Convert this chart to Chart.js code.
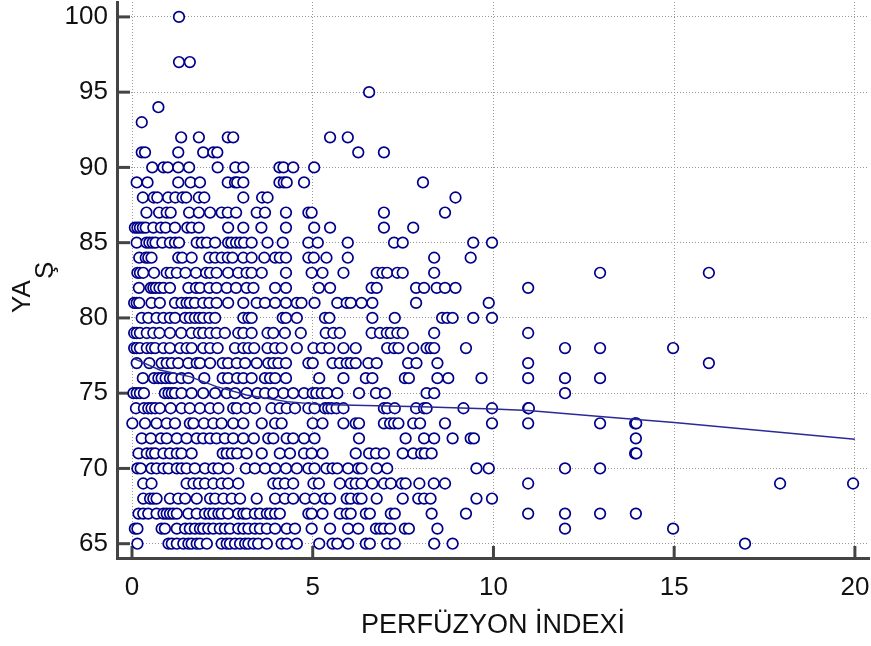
<!DOCTYPE html>
<html>
<head>
<meta charset="utf-8">
<script src="https://cdn.jsdelivr.net/npm/chart.js@4"></script>
<style>html,body{margin:0;padding:0;background:#fff}canvas{display:block}</style>
</head>
<body>
<canvas id="c" width="871" height="646"></canvas>
<script>
const xTickValues=[0,5,10,15,20];
const yTickValues=[65,70,75,80,85,90,95,100];
const xTitle="PERFÜZYON İNDEXİ";
const yTitleMain="YA";
const yTitleLow="Ş";

const age100=[1.3];
const age97=[1.3,1.6];
const age95=[6.56];
const age94=[0.73];
const age93=[0.27];
const age92=[1.36,1.85,2.65,2.8,5.48,5.97];
const age91=[0.27,0.36,1.28,1.97,2.25,2.36,6.26,6.97];
const age90=[0.56,0.87,0.99,1.28,1.58,2.37,2.86,3.08,4.08,4.19,4.46,5.04];
const age89=[0.13,0.43,1.28,1.62,1.88,2.65,2.85,2.91,3.08,4.08,4.2,4.28,4.76,8.05];
const age88=[0.3,0.6,0.7,1,1.2,1.4,1.5,1.85,2,3.08,3.6,3.75,8.95];
const age87=[0.4,0.75,0.96,1.07,1.58,1.85,2.16,2.48,2.65,2.88,3.45,3.68,4.26,4.88,4.97,6.97,8.66];
const age86=[0.08,0.15,0.22,0.3,0.38,0.59,0.8,0.93,1.19,1.53,1.65,1.85,2.66,3.08,3.58,4.26,5.04,5.48,6.97,7.78];
const age85=[0.13,0.4,0.48,0.57,0.65,0.84,1.05,1.19,1.3,1.79,1.93,2.07,2.3,2.66,2.75,2.88,2.99,3.1,3.31,3.75,4.17,4.88,5.14,5.97,7.25,7.49,9.44,9.96];
const age84=[0.2,0.38,0.45,0.54,1.28,1.39,1.65,2.14,2.3,2.48,2.65,2.78,3.08,3.31,3.66,3.96,4.09,4.26,4.88,5.03,5.38,5.97,8.36,9.37];
const age83=[0.15,0.22,0.31,0.61,0.96,1.07,1.24,1.48,1.77,2.05,2.16,2.34,2.66,2.94,3.17,3.31,3.59,4.26,4.97,5.27,5.85,6.77,6.93,7.06,7.34,7.49,8.36,12.95,15.96];
const age82=[0.19,0.52,0.59,0.66,0.76,0.87,1.05,1.56,1.77,1.88,2.14,2.34,2.62,2.88,3.17,3.36,3.96,4.26,5.17,5.48,6.63,6.77,7.86,8.08,8.43,8.66,8.95,10.96];
const age81=[0.06,0.13,0.2,0.54,0.77,1.19,1.37,1.51,1.6,1.74,1.97,2.14,2.34,2.66,3.08,3.45,3.68,3.96,4.26,4.56,4.69,5.05,5.68,5.94,6.05,6.35,6.65,7.86,9.87];
const age80=[0.27,0.45,0.68,0.87,1.05,1.19,1.47,1.6,1.74,1.86,1.97,2.14,2.3,3.08,3.22,3.31,4.17,4.26,4.56,5.34,5.46,6.65,7.27,8.58,8.72,8.87,9.44,9.96];
const age79=[0.06,0.13,0.22,0.41,0.59,0.76,1.05,1.36,1.65,1.85,1.97,2.16,2.34,2.57,2.94,3.08,3.31,3.75,3.91,4.23,4.67,5.36,5.57,5.75,6.63,6.86,7.05,7.16,7.34,7.49,8.36,10.96];
const age78=[0.06,0.13,0.22,0.41,0.54,0.64,0.87,1.05,1.33,1.51,1.65,1.97,2.16,2.37,2.85,3.08,3.22,3.38,3.75,3.96,4.14,4.56,5.02,5.25,5.46,5.85,6.19,7.06,7.25,7.37,7.78,8.15,8.26,8.36,9.24,11.98,12.95,14.97];
const age77=[0.13,0.48,0.82,0.96,1.1,1.28,1.56,1.79,1.88,2.16,2.51,2.66,2.9,3.13,3.45,3.77,3.91,4.05,4.26,4.88,5.0,5.55,5.75,5.94,6.05,6.19,6.54,6.77,7.64,7.87,8.45,10.96,15.96];
const age76=[0.3,0.61,0.73,0.82,0.93,1.05,1.14,1.37,1.56,2,2.51,2.66,2.91,3.08,3.31,3.68,3.82,3.96,4.26,5.18,5.85,6.47,6.65,7.55,7.66,8.45,8.75,9.67,10.96,11.98,12.95];
const age75=[0.04,0.13,0.22,0.33,0.91,1.01,1.1,1.19,1.37,1.65,1.97,2.3,2.62,2.85,3.17,3.47,3.68,3.91,4.19,4.46,4.76,5,5.1,5.25,5.4,5.68,6.28,6.75,7,8.15,8.36,11.98];
const age74=[0.11,0.33,0.45,0.54,0.64,0.77,1.07,1.37,1.6,1.88,2.16,2.39,2.8,2.9,3.15,3.4,3.86,4.09,4.28,4.51,4.88,5.05,5.34,5.43,5.52,5.66,5.85,6.97,7.06,7.27,7.86,8.08,8.15,9.17,9.96,10.96,10.98];
const age73=[0.01,0.36,0.68,0.96,1.19,1.6,1.7,1.99,2.25,2.48,2.8,3.08,3.59,3.96,4.14,5,5.27,5.85,6.19,6.28,6.97,7.14,7.25,7.37,7.78,7.97,8.66,9.96,10.96,12.95,13.92,13.95];
const age72=[0.27,0.52,0.8,0.96,1.24,1.51,1.79,1.97,2.16,2.34,2.57,2.8,3.08,3.37,3.77,3.91,4.28,4.46,4.76,5.05,6.28,7.57,8.08,8.36,8.87,9.37,9.46,13.94];
const age71=[0.18,0.41,0.54,0.64,0.87,1.05,1.24,1.37,1.65,2.51,2.62,2.76,2.91,3.17,3.59,4.09,4.37,4.76,4.97,5.27,6.19,6.56,6.75,6.97,7.49,7.78,8,8.1,8.29,13.92,13.95];
const age70=[0.15,0.24,0.54,0.68,0.87,1.01,1.24,1.37,1.51,1.74,2.02,2.25,2.39,2.66,3.15,3.4,3.68,3.96,4.26,4.56,4.88,5.05,5.38,5.55,5.68,5.98,6.26,6.35,6.77,7.06,9.53,9.87,11.98,12.95];
const age69=[0.31,0.54,1.51,1.7,1.85,2.02,2.25,2.48,2.66,2.94,3.91,4.05,4.23,4.46,5.02,5.17,5.75,6.05,6.19,6.35,6.65,6.97,7.16,7.46,7.57,7.95,8.35,8.66,10.96,17.93,19.95];
const age68=[0.31,0.5,0.59,0.68,1.05,1.28,1.47,1.79,2.16,2.3,2.53,2.76,2.99,3.45,3.96,4.23,4.46,4.79,5.05,5.34,5.48,5.94,6.05,6.26,6.35,6.77,7.49,7.92,8.08,8.26,9.53,9.96];
const age67=[0.18,0.31,0.45,0.68,0.87,0.96,1.05,1.14,1.24,1.56,1.79,2.02,2.14,2.25,2.39,2.48,2.66,2.94,3.08,3.17,3.4,3.54,3.73,3.82,3.96,4.09,4.88,4.97,5.27,5.75,5.94,6.05,6.47,6.58,7.16,7.27,8.29,9.24,10.96,11.98,12.95,13.94];
const age66=[0.08,0.15,0.82,0.91,1.24,1.47,1.6,1.74,1.88,1.97,2.11,2.25,2.43,2.57,2.71,2.94,3.08,3.22,3.4,3.54,3.73,3.96,4.28,4.51,4.97,5.48,5.98,6.26,6.75,6.86,6.97,7.14,7.55,7.66,8.45,11.98,14.97];
const age65=[0.15,1.01,1.1,1.24,1.42,1.56,1.65,1.79,1.88,2.07,2.48,2.62,2.71,2.85,2.99,3.13,3.22,3.36,3.49,3.73,4.14,4.28,4.56,5.18,5.55,5.68,5.98,6.47,6.58,7.06,7.27,8.36,8.87,16.96];

const trendX=[0.04,0.77,1.6,2.34,3.17,4.28,5.2,5.85,8,10,10.96,13.2,15,20];
const trendY=[77.32,76.54,76.1,75.44,74.88,74.44,74.25,74.22,74.1,73.95,73.85,73.4,73.05,71.94];

const ageRows=[[100,age100],[97,age97],[95,age95],[94,age94],[93,age93],[92,age92],[91,age91],[90,age90],[89,age89],[88,age88],[87,age87],[86,age86],[85,age85],[84,age84],[83,age83],[82,age82],[81,age81],[80,age80],[79,age79],[78,age78],[77,age77],[76,age76],[75,age75],[74,age74],[73,age73],[72,age72],[71,age71],[70,age70],[69,age69],[68,age68],[67,age67],[66,age66],[65,age65]];
const scatterPoints=[];
ageRows.forEach(([a,xs])=>xs.forEach(x=>scatterPoints.push({x:x,y:a})));
const trendPoints=trendX.map((x,i)=>({x:x,y:trendY[i]}));

const FONT="'Liberation Sans', Arial, sans-serif";
const AXIS="#444444";
const INK="#111111";
const noMargins=s=>{s.paddingTop=0;s.paddingBottom=0;s.paddingLeft=0;s.paddingRight=0;};

const marksPlugin={
  id:'marks',
  beforeDatasetsDraw(chart){
    const {ctx,chartArea:a,scales:{x,y}}=chart;
    ctx.save();
    ctx.strokeStyle=AXIS;ctx.lineWidth=3;
    xTickValues.forEach(v=>{const p=x.getPixelForValue(v);ctx.beginPath();ctx.moveTo(p,a.bottom);ctx.lineTo(p,a.bottom-12);ctx.stroke();});
    yTickValues.forEach(v=>{const p=y.getPixelForValue(v);ctx.beginPath();ctx.moveTo(a.left,p);ctx.lineTo(a.left+13,p);ctx.stroke();});
    ctx.restore();
  },
  afterDraw(chart){
    const {ctx}=chart;
    ctx.save();
    ctx.fillStyle=INK;
    ctx.font="26px "+FONT;
    ctx.textBaseline="alphabetic";
    ctx.textAlign="left";
    ctx.translate(30,313);
    ctx.rotate(-Math.PI/2);
    ctx.fillText(yTitleMain,0,0);
    ctx.fillText(yTitleLow,34,23);
    ctx.restore();
  }
};

new Chart(document.getElementById('c'),{
  plugins:[marksPlugin],
  data:{datasets:[
    {type:'line',data:trendPoints,borderColor:'#2a2a96',borderWidth:1.4,pointRadius:0,fill:false,tension:0,order:0},
    {type:'scatter',data:scatterPoints,borderColor:'#00008b',backgroundColor:'#ffffff',borderWidth:1.7,pointRadius:5.3,pointHoverRadius:5.3,order:1}
  ]},
  options:{
    responsive:false,animation:false,
    layout:{autoPadding:false,padding:{top:2,right:2,left:0,bottom:0}},
    plugins:{legend:{display:false},tooltip:{enabled:false},title:{display:false}},
    scales:{
      x:{type:'linear',position:'bottom',min:-0.415,max:20.39,
        afterBuildTicks:s=>{s.ticks=xTickValues.map(v=>({value:v}));},
        afterFit:s=>{s.height=88;noMargins(s);},
        grid:{color:'#999',lineWidth:1,drawTicks:false},
        border:{display:true,color:AXIS,width:3,dash:[1,2]},
        ticks:{color:INK,font:{family:FONT,size:26},padding:14,maxRotation:0,autoSkip:false},
        title:{display:true,text:xTitle,color:INK,font:{family:FONT,size:27},padding:{top:0,bottom:4}}
      },
      y:{type:'linear',position:'left',min:64.05,max:100.99,
        afterBuildTicks:s=>{s.ticks=yTickValues.map(v=>({value:v}));},
        afterFit:s=>{s.width=117;noMargins(s);},
        grid:{color:'#999',lineWidth:1,drawTicks:false},
        border:{display:true,color:AXIS,width:3,dash:[1,2]},
        ticks:{color:INK,font:{family:FONT,size:26},padding:9,autoSkip:false}
      }
    }
  }
});
</script>
</body>
</html>
